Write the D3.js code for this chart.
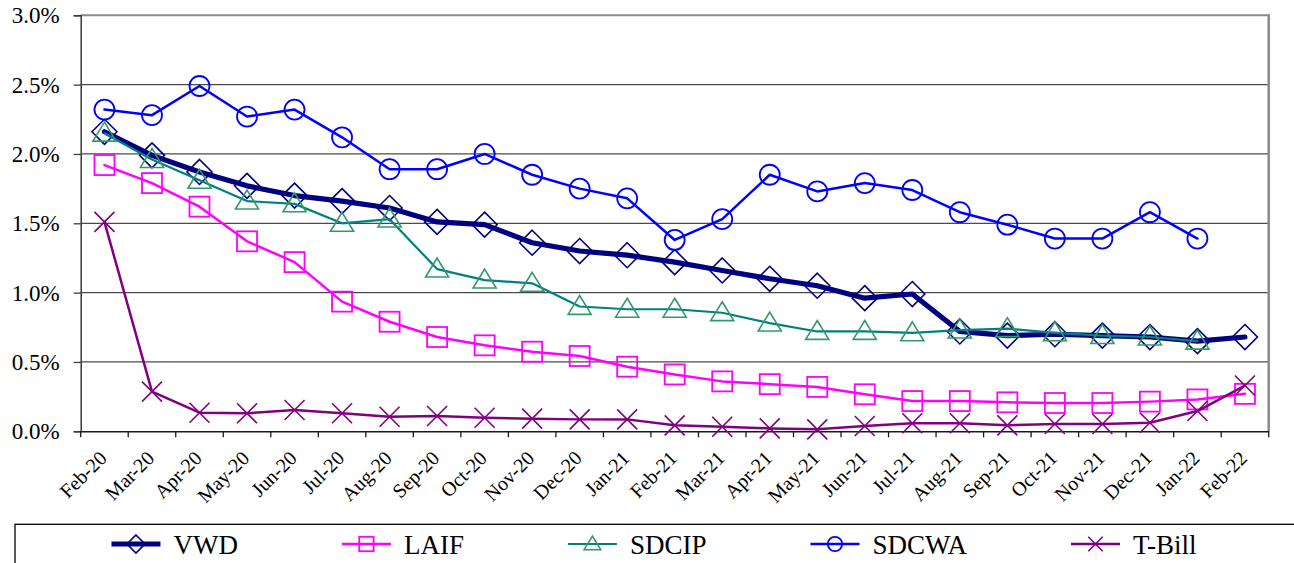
<!DOCTYPE html>
<html>
<head>
<meta charset="utf-8">
<script src="https://cdn.jsdelivr.net/npm/d3@7/dist/d3.min.js"></script>
<style>
  html, body { margin: 0; padding: 0; background: #fff; }
  svg { display: block; }
  svg text { font-family: "Liberation Serif", "Times New Roman", Times, serif; }
</style>
</head>
<body>
<svg id="chart" width="1294" height="563"></svg>
<script>
// Monthly yields (%), Feb-20 through Feb-22
const months = ["Feb-20","Mar-20","Apr-20","May-20","Jun-20","Jul-20","Aug-20","Sep-20","Oct-20","Nov-20","Dec-20","Jan-21",
                "Feb-21","Mar-21","Apr-21","May-21","Jun-21","Jul-21","Aug-21","Sep-21","Oct-21","Nov-21","Dec-21","Jan-22","Feb-22"];

const vwd   = [2.16, 1.99, 1.87, 1.77, 1.70, 1.66, 1.61, 1.51, 1.49, 1.36, 1.30, 1.27,
               1.22, 1.16, 1.10, 1.05, 0.96, 0.99, 0.72, 0.69, 0.70, 0.69, 0.68, 0.65, 0.68];
const laif  = [1.92, 1.79, 1.62, 1.37, 1.22, 0.935, 0.79, 0.68, 0.62, 0.574, 0.543, 0.466,
               0.41, 0.36, 0.34, 0.32, 0.267, 0.218, 0.218, 0.209, 0.204, 0.204, 0.214, 0.23, 0.27];
const sdcip = [2.15, 1.96, 1.81, 1.66, 1.64, 1.50, 1.53, 1.17, 1.09, 1.067, 0.90, 0.88,
               0.88, 0.855, 0.78, 0.72, 0.72, 0.71, 0.73, 0.74, 0.71, 0.69, 0.68, 0.65, null];
const sdcwa = [2.32, 2.28, 2.49, 2.27, 2.32, 2.12, 1.89, 1.89, 2.00, 1.85, 1.75, 1.68,
               1.38, 1.53, 1.85, 1.73, 1.79, 1.74, 1.58, 1.49, 1.39, 1.39, 1.58, 1.39, null];
const tbill = [1.51, 0.286, 0.134, 0.13, 0.154, 0.13, 0.105, 0.11, 0.098, 0.091, 0.086, 0.086,
               0.043, 0.033, 0.021, 0.014, 0.038, 0.058, 0.058, 0.043, 0.053, 0.053, 0.062, 0.146, 0.33];

const yTicks = [0, 0.5, 1.0, 1.5, 2.0, 2.5, 3.0];

const series = [
  { name: "VWD",    values: vwd,   line: "#000080", marker: "#000080", width: 5.2, shape: "diamond" },
  { name: "LAIF",   values: laif,  line: "#FF00FF", marker: "#FF00FF", width: 2.5, shape: "square" },
  { name: "SDCIP",  values: sdcip, line: "#008080", marker: "#339966", width: 2.2, shape: "triangle" },
  { name: "SDCWA",  values: sdcwa, line: "#0000FF", marker: "#0000FF", width: 2.5, shape: "circle" },
  { name: "T-Bill", values: tbill, line: "#800080", marker: "#800080", width: 2.5, shape: "cross" }
];

const serif = "'Liberation Serif', 'Times New Roman', Times, serif";
const svg = d3.select("#chart");
const plot = { left: 80.7, right: 1268.7, top: 15.3, bottom: 431.3 };

const x = d3.scaleBand().domain(months).range([plot.left, plot.right]).paddingInner(0).paddingOuter(0);
const y = d3.scaleLinear().domain([0, 3.0]).range([plot.bottom, plot.top]);
const cx = m => x(m) + x.bandwidth() / 2;

// Horizontal gridlines
svg.append("g")
  .selectAll("line")
  .data(yTicks.filter(t => t > 0))
  .join("line")
  .attr("x1", plot.left).attr("x2", plot.right)
  .attr("y1", d => y(d)).attr("y2", d => y(d))
  .attr("stroke", d => d === 3.0 ? "#8a8a8a" : "#4a4a4a")
  .attr("stroke-width", d => d === 3.0 ? 2 : 1.2);

// Right border of the plot area
svg.append("line")
  .attr("x1", plot.right).attr("x2", plot.right)
  .attr("y1", plot.top - 1).attr("y2", plot.bottom)
  .attr("stroke", "#8a8a8a").attr("stroke-width", 2.5);

// Y axis
const yAxis = svg.append("g")
  .attr("transform", `translate(${plot.left},0)`)
  .call(d3.axisLeft(y).tickValues(yTicks).tickFormat(d => d.toFixed(1) + "%").tickSize(7).tickPadding(14));
yAxis.attr("font-family", serif);
yAxis.select(".domain").attr("stroke", "#3a3a3a").attr("stroke-width", 1.5);
yAxis.selectAll(".tick line").attr("stroke", "#3a3a3a").attr("stroke-width", 1.3);
yAxis.selectAll("text")
  .attr("font-family", serif)
  .attr("font-size", 23).attr("fill", "#000");

// X axis: ticks at band boundaries, rotated month labels
const xAxis = svg.append("g")
  .attr("transform", `translate(0,${plot.bottom})`)
  .call(d3.axisBottom(x).tickSize(0).tickFormat(""));
xAxis.attr("font-family", serif);
xAxis.select(".domain").attr("stroke", "#1a1a1a").attr("stroke-width", 1.5);
xAxis.selectAll(".tick").remove();

const bounds = months.map(m => x(m)).concat([plot.right]);
xAxis.append("g").selectAll("line")
  .data(bounds)
  .join("line")
  .attr("x1", d => d).attr("x2", d => d)
  .attr("y1", 0).attr("y2", 6)
  .attr("stroke", "#1a1a1a").attr("stroke-width", 1.3);

xAxis.append("g").selectAll("text")
  .data(months)
  .join("text")
  .attr("transform", m => `translate(${cx(m) + 3.5},${28}) rotate(-45)`)
  .attr("text-anchor", "end")
  .attr("font-family", serif)
  .attr("font-size", 20)
  .attr("fill", "#000")
  .text(m => m);

// Marker shapes, hollow
function drawMarker(g, shape, color, size) {
  if (shape === "diamond") {
    const r = size;
    g.append("path").attr("d", `M0,${-r}L${r},0L0,${r}L${-r},0Z`)
      .attr("fill", "none").attr("stroke", color).attr("stroke-width", 1.6);
  } else if (shape === "square") {
    const h = size;
    g.append("rect").attr("x", -h).attr("y", -h).attr("width", 2 * h).attr("height", 2 * h)
      .attr("fill", "none").attr("stroke", color).attr("stroke-width", 1.8);
  } else if (shape === "triangle") {
    const h = size;
    g.append("path").attr("d", `M0,${-h}L${h * 1.05},${h * 0.72}L${-h * 1.05},${h * 0.72}Z`)
      .attr("fill", "none").attr("stroke", color).attr("stroke-width", 1.6);
  } else if (shape === "circle") {
    g.append("circle").attr("r", size)
      .attr("fill", "none").attr("stroke", color).attr("stroke-width", 1.8);
  } else if (shape === "cross") {
    const h = size;
    g.append("path").attr("d", `M${-h},${-h}L${h},${h}M${-h},${h}L${h},${-h}`)
      .attr("fill", "none").attr("stroke", color).attr("stroke-width", 1.6);
  }
}

const markerSize = { diamond: 12.5, square: 10, triangle: 11, circle: 10, cross: 10 };

const lineGen = d3.line()
  .defined(d => d.v !== null)
  .x(d => cx(d.m))
  .y(d => y(d.v));

series.forEach(s => {
  const pts = months.map((m, i) => ({ m, v: s.values[i] }));
  const g = svg.append("g");
  g.append("path")
    .datum(pts)
    .attr("d", lineGen)
    .attr("fill", "none")
    .attr("stroke", s.line)
    .attr("stroke-width", s.width)
    .attr("stroke-linejoin", "round")
    .attr("stroke-linecap", "round");
  pts.filter(p => p.v !== null).forEach(p => {
    const mg = g.append("g").attr("transform", `translate(${cx(p.m)},${y(p.v)})`);
    drawMarker(mg, s.shape, s.marker, markerSize[s.shape]);
  });
});

// Legend
const legend = svg.append("g").attr("font-family", serif);
legend.append("rect")
  .attr("x", 15).attr("y", 524.3).attr("width", 1300).attr("height", 60)
  .attr("fill", "#fff").attr("stroke", "#000").attr("stroke-width", 1.3);

const legendY = 544;
const lineLen = 49, textGap = 13, itemGap = 104;
const items = legend.selectAll("g.item").data(series).join("g").attr("class", "item");
items.append("text")
  .attr("font-family", serif)
  .attr("font-size", 27)
  .attr("fill", "#000")
  .attr("y", 553.5)
  .text(d => d.name);

// Lay legend entries out in a row, centred on the plot
const widths = [];
items.select("text").each(function () { widths.push(this.getComputedTextLength()); });
const total = d3.sum(widths) + series.length * (lineLen + textGap) + (series.length - 1) * itemGap;
let cursor = 654 - total / 2;
items.each(function (d, i) {
  const g = d3.select(this);
  const x0 = cursor;
  g.insert("line", "text")
    .attr("x1", x0).attr("x2", x0 + lineLen)
    .attr("y1", legendY).attr("y2", legendY)
    .attr("stroke", d.line).attr("stroke-width", d.width);
  const mg = g.insert("g", "text").attr("transform", `translate(${x0 + lineLen / 2},${legendY})`);
  drawMarker(mg, d.shape, d.marker, markerSize[d.shape] * 0.72);
  g.select("text").attr("x", x0 + lineLen + textGap);
  cursor += lineLen + textGap + widths[i] + itemGap;
});
</script>
</body>
</html>
